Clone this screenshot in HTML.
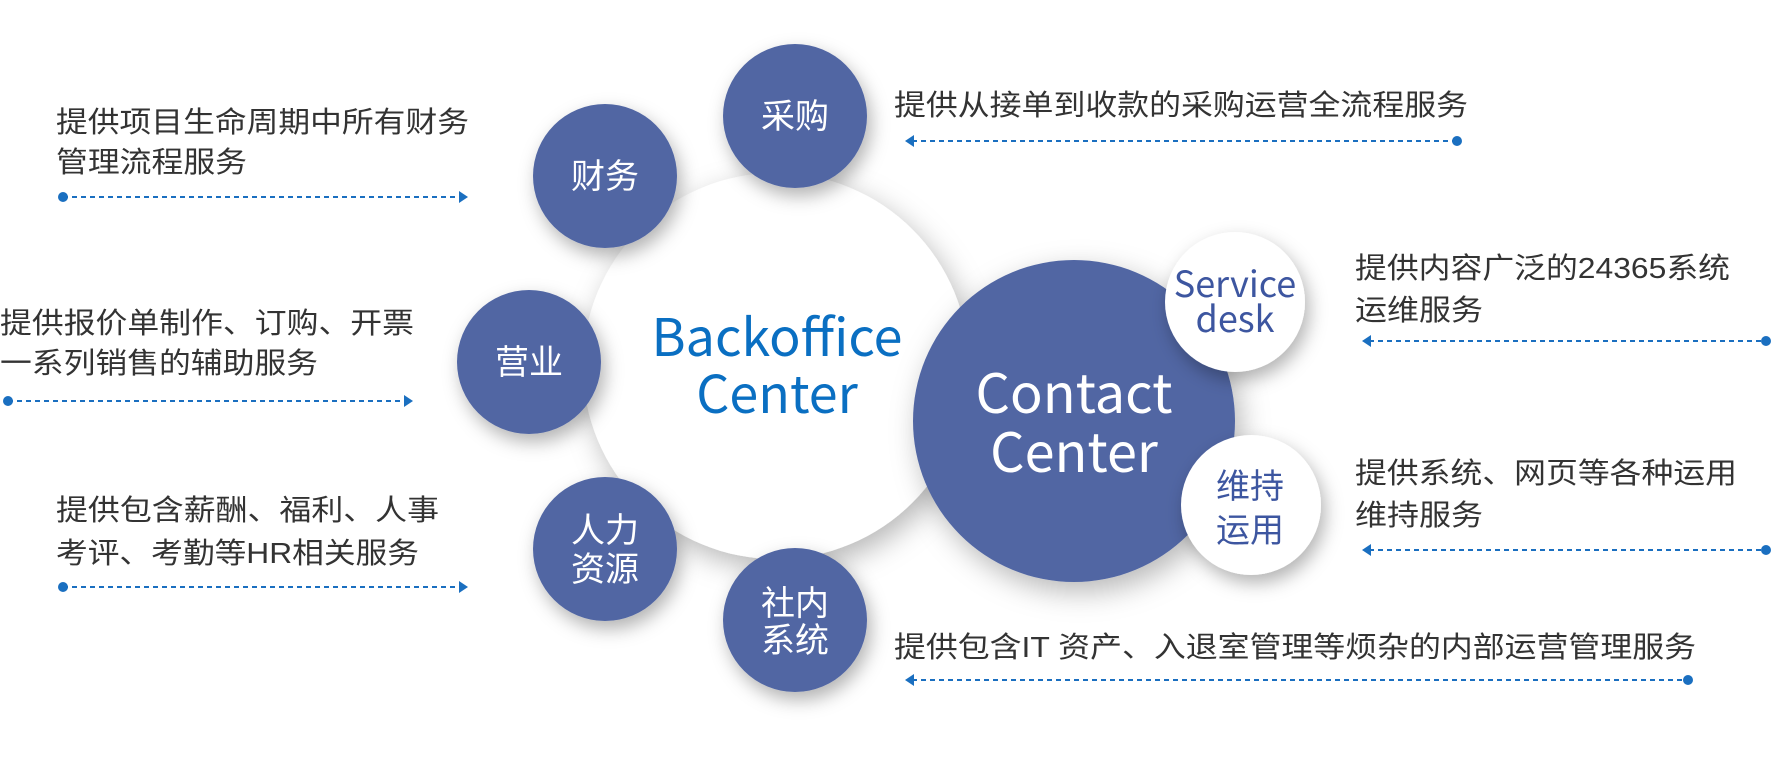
<!DOCTYPE html>
<html><head><meta charset="utf-8"><style>
html,body{margin:0;padding:0;background:#fff;}
svg{display:block;}
.d{font-family:"Liberation Sans","Noto Sans CJK SC",sans-serif;font-size:29px;fill:#333;}
.w{font-family:"Noto Sans CJK SC","Liberation Sans",sans-serif;font-size:34px;fill:#fff;text-anchor:middle;}
</style></head><body>
<svg width="1784" height="772" viewBox="0 0 1784 772" xmlns="http://www.w3.org/2000/svg">
<defs>
<filter id="sh" x="-40%" y="-40%" width="180%" height="180%">
<feDropShadow dx="6" dy="10" stdDeviation="14" flood-color="#000" flood-opacity="0.28"/>
</filter>
<filter id="sh2" x="-40%" y="-40%" width="180%" height="180%">
<feDropShadow dx="4" dy="8" stdDeviation="9" flood-color="#000" flood-opacity="0.3"/>
</filter>
</defs>
<!-- Backoffice -->
<circle cx="776" cy="366" r="193" fill="#fff" filter="url(#sh)"/>
<!-- Contact -->
<circle cx="1074" cy="421" r="161" fill="#5166a3" filter="url(#sh)"/>
<circle cx="1235" cy="302" r="70" fill="#fff" filter="url(#sh2)"/>
<circle cx="1251" cy="505" r="70" fill="#fff" filter="url(#sh2)"/>
<!-- small blue -->
<g fill="#5166a3" filter="url(#sh2)">
<circle cx="795" cy="116" r="72"/>
<circle cx="605" cy="176" r="72"/>
<circle cx="529" cy="362" r="72"/>
<circle cx="605" cy="549" r="72"/>
<circle cx="795" cy="620" r="72"/>
</g>
<g font-family="'Noto Sans CJK SC','Liberation Sans',sans-serif" text-anchor="middle">
<text x="777" y="356" font-size="52" fill="#0a6fc2">Backoffice</text>
<text x="777" y="413" font-size="52" fill="#0a6fc2">Center</text>
<text x="1074" y="413" font-size="54" fill="#fff">Contact</text>
<text x="1074" y="472" font-size="54" fill="#fff">Center</text>
<text x="1235" y="297" font-size="36" fill="#3d56a0">Service</text>
<text x="1235" y="332" font-size="36" fill="#3d56a0">desk</text>
<text x="1250" y="498" font-size="34" fill="#3d56a0">维持</text>
<text x="1250" y="542" font-size="34" fill="#3d56a0">运用</text>
</g>
<text class="w" x="795" y="128">采购</text>
<text class="w" x="605" y="188">财务</text>
<text class="w" x="529" y="374">营业</text>
<text class="w" x="605" y="542">人力</text>
<text class="w" x="605" y="581">资源</text>
<text class="w" x="795" y="615">社内</text>
<text class="w" x="795" y="652">系统</text>
<!-- descriptions -->
<text class="d" x="56" y="132" textLength="413" lengthAdjust="spacingAndGlyphs">提供项目生命周期中所有财务</text>
<text class="d" x="56" y="172" textLength="191" lengthAdjust="spacingAndGlyphs">管理流程服务</text>
<text class="d" x="0" y="333" textLength="414" lengthAdjust="spacingAndGlyphs">提供报价单制作、订购、开票</text>
<text class="d" x="0" y="373" textLength="318" lengthAdjust="spacingAndGlyphs">一系列销售的辅助服务</text>
<text class="d" x="56" y="520" textLength="383" lengthAdjust="spacingAndGlyphs">提供包含薪酬、福利、人事</text>
<text class="d" x="56" y="563" textLength="363" lengthAdjust="spacingAndGlyphs">考评、考勤等HR相关服务</text>
<text class="d" x="894" y="115" textLength="574" lengthAdjust="spacingAndGlyphs">提供从接单到收款的采购运营全流程服务</text>
<text class="d" x="1355" y="278" textLength="375" lengthAdjust="spacingAndGlyphs">提供内容广泛的24365系统</text>
<text class="d" x="1355" y="320" textLength="128" lengthAdjust="spacingAndGlyphs">运维服务</text>
<text class="d" x="1355" y="483" textLength="382" lengthAdjust="spacingAndGlyphs">提供系统、网页等各种运用</text>
<text class="d" x="1355" y="525" textLength="128" lengthAdjust="spacingAndGlyphs">维持服务</text>
<text class="d" x="894" y="657" textLength="802" lengthAdjust="spacingAndGlyphs">提供包含IT 资产、入退室管理等烦杂的内部运营管理服务</text>
<!-- connectors -->
<g stroke="#1a6fc0" stroke-width="2" stroke-dasharray="5,4" fill="none">
<line x1="63" y1="197" x2="460" y2="197"/>
<line x1="8" y1="401" x2="406" y2="401"/>
<line x1="63" y1="587" x2="460" y2="587"/>
<line x1="912" y1="141" x2="1457" y2="141"/>
<line x1="1369" y1="341" x2="1766" y2="341"/>
<line x1="1369" y1="550" x2="1766" y2="550"/>
<line x1="912" y1="680" x2="1688" y2="680"/>
</g>
<g fill="#1a6fc0">
<circle cx="63" cy="197" r="5"/><path d="M459 191 L468 197 L459 203Z"/>
<circle cx="8" cy="401" r="5"/><path d="M404 395 L413 401 L404 407Z"/>
<circle cx="63" cy="587" r="5"/><path d="M459 581 L468 587 L459 593Z"/>
<circle cx="1457" cy="141" r="5"/><path d="M914 135 L905 141 L914 147Z"/>
<circle cx="1766" cy="341" r="5"/><path d="M1371 335 L1362 341 L1371 347Z"/>
<circle cx="1766" cy="550" r="5"/><path d="M1371 544 L1362 550 L1371 556Z"/>
<circle cx="1688" cy="680" r="5"/><path d="M914 674 L905 680 L914 686Z"/>
</g>
</svg>
</body></html>
